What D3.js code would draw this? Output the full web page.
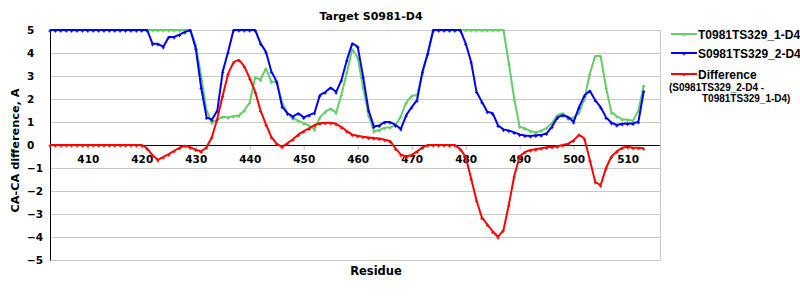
<!DOCTYPE html>
<html><head><meta charset="utf-8">
<script src="https://cdn.jsdelivr.net/npm/d3@7/dist/d3.min.js"></script>
<style>
body{margin:0;background:#fff}
svg{display:block}
text{font-weight:bold;fill:#000}
</style>
</head><body>
<svg id="chart" width="800" height="300"></svg>
<script>
// ---- data ----
const residueStart = 403, residueEnd = 513;
const residues = d3.range(residueStart, residueEnd + 1);

// T0981TS329_1-D4 (green)
const model1 = [
  5,5,5,5,5,5,5,5,5,5,                       // 403-412
  5,5,5,5,5,5,5,5,5,5,                       // 413-422
  5,5,5,5,5,5,5,4.35,3.0,1.52,               // 423-432
  0.97,1.1,1.23,1.2,1.26,1.28,1.5,1.85,2.94,2.85, // 433-442
  3.33,2.75,2.75,1.85,1.38,1.16,1.06,0.95,0.85,0.68, // 443-452
  1.2,1.45,1.58,1.4,2.2,3.15,4.16,3.8,2.5,1.3,   // 453-462
  0.6,0.65,0.75,0.77,0.85,1.25,1.85,2.14,2.17,3.1, // 463-472
  4.0,5,5,5,5,5,5,5,5,5,                     // 473-482
  5,5,5,5,5,3.55,2.0,0.8,0.72,0.6,           // 483-492
  0.55,0.62,0.75,0.95,1.3,1.38,1.15,1.2,1.4,2.0,  // 493-502
  3.1,3.87,3.87,2.5,1.42,1.25,1.12,1.1,1.06,1.5,  // 503-512
  2.6                                        // 513
];

// S0981TS329_2-D4 (blue)
const model2 = [
  5,5,5,5,5,5,5,5,5,5,                       // 403-412
  5,5,5,5,5,5,5,5,5,4.4,                     // 413-422
  4.4,4.27,4.7,4.7,4.8,4.92,5,4.2,2.5,1.2,   // 423-432
  1.1,1.5,3.2,4.05,5,5,5,5,5,4.42,           // 433-442
  4.05,3.2,2.75,1.67,1.38,1.23,1.38,1.2,1.3,1.4, // 443-452
  2.17,2.3,2.5,2.3,2.83,3.7,4.42,4.28,2.97,1.52, // 453-462
  0.8,0.85,1.0,1.0,0.87,0.7,1.3,1.65,1.95,3.2,   // 463-472
  4.0,5,5,5,5,5,5,4.42,3.62,2.32,            // 473-482
  1.88,1.45,1.38,0.85,0.68,0.63,0.55,0.46,0.41,0.39, // 483-492
  0.42,0.43,0.51,0.8,1.2,1.3,1.22,1.0,1.65,2.15,  // 493-502
  2.36,1.95,1.65,1.2,0.97,0.87,0.92,0.94,0.94,1.01, // 503-512
  2.36                                       // 513
];

// Difference (red)
const difference = [
  0,0,0,0,0,0,0,0,0,0,                       // 403-412
  0,0,0,0,0,0,0,0,-0.15,-0.45,               // 413-422
  -0.65,-0.52,-0.4,-0.25,-0.12,-0.03,-0.1,-0.2,-0.28,-0.1, // 423-432
  0.35,1.15,2.15,3.1,3.6,3.7,3.42,2.9,2.32,1.5,  // 433-442
  0.9,0.35,0.05,-0.08,0.08,0.25,0.45,0.6,0.72,0.87, // 443-452
  0.95,0.97,0.97,0.92,0.78,0.6,0.45,0.4,0.36,0.33, // 453-462
  0.3,0.28,0.23,0.17,-0.15,-0.42,-0.5,-0.43,-0.28,-0.1, // 463-472
  0,0,0,0,0,0,-0.18,-0.52,-1.45,-2.4,        // 473-482
  -3.15,-3.45,-3.75,-4.0,-3.7,-2.6,-1.35,-0.5,-0.3,-0.22, // 483-492
  -0.18,-0.14,-0.1,-0.08,-0.05,0,0.06,0.2,0.45,0.28, // 493-502
  -0.65,-1.6,-1.75,-1.0,-0.5,-0.28,-0.12,-0.08,-0.12,-0.12, // 503-512
  -0.14                                      // 513
];

const xTicks = [410,420,430,440,450,460,470,480,490,500,510];
const yTicks = [-5,-4,-3,-2,-1,0,1,2,3,4,5];
const seriesNames = ["T0981TS329_1-D4","S0981TS329_2-D4","Difference"];
const seriesColors = ["#66cc66","#0000ff","#ff0000"];
const titleText = "Target S0981-D4";
const xLabel = "Residue";
const yLabel = "CA-CA difference, A";
const diffSub = ["(S0981TS329_2-D4 -","T0981TS329_1-D4)"];

// ---- layout ----
const svg = d3.select("#chart");
const L = 50, R = 660, T = 30, B = 260;
const x = d3.scaleLinear().domain([403, 516]).range([L, R]);
const y = d3.scaleLinear().domain([-5, 5]).range([B, T]);
const wide = '"DejaVu Sans",Verdana,sans-serif';
const narrow = '"Liberation Sans",Arial,sans-serif';

// gridlines
svg.append("g").selectAll("line").data(yTicks).join("line")
  .attr("x1", L).attr("x2", R)
  .attr("y1", d => Math.round(y(d)) + 0.5).attr("y2", d => Math.round(y(d)) + 0.5)
  .attr("stroke", "#c8c8c8").attr("stroke-width", 1);
// right border
svg.append("line").attr("x1", R + 0.5).attr("x2", R + 0.5).attr("y1", T).attr("y2", B + 0.5)
  .attr("stroke", "#c8c8c8");

// y tick labels (left aligned)
svg.append("g").selectAll("text").data(yTicks).join("text")
  .attr("x", 27).attr("y", d => y(d) + 4)
  .style("font-family", wide).style("font-size", "10.5px")
  .text(d => d < 0 ? "\u2212" + Math.abs(d) : d);

// x axis on zero line
const xAxis = d3.axisBottom(x).tickValues(xTicks).tickSize(4).tickPadding(6).tickFormat(d3.format("d"));
const gx = svg.append("g").attr("transform", `translate(0,${Math.round(y(0)) + 0.5})`).call(xAxis);
gx.select(".domain").remove();
gx.selectAll(".tick line").attr("stroke", "#b0b0b0");
gx.selectAll(".tick text").style("font-size", "10.5px").style("font-family", wide).style("font-weight", "bold").attr("fill", "#000");
svg.append("line").attr("x1", L).attr("x2", R).attr("y1", Math.round(y(0)) + 0.5).attr("y2", Math.round(y(0)) + 0.5)
  .attr("stroke", "#000");
// left axis
svg.append("line").attr("x1", L + 0.5).attr("x2", L + 0.5).attr("y1", T).attr("y2", B + 0.5).attr("stroke", "#000");

// series
const series = [model1, model2, difference];
const line = d3.line().x((d, i) => x(residues[i])).y(d => y(d));
series.forEach((vals, k) => {
  const g = svg.append("g");
  g.append("path").datum(vals).attr("d", line)
    .attr("fill", "none").attr("stroke", seriesColors[k]).attr("stroke-width", 2)
    .attr("stroke-linejoin", "round");
  g.selectAll("path.m").data(vals).join("path").attr("class", "m")
    .attr("d", (d, i) => {
      const cx = x(residues[i]), cy = y(d);
      return `M${cx - 1.5},${cy + 1}h3M${cx},${cy - 0.5}v3`;
    })
    .attr("stroke", seriesColors[k]).attr("stroke-width", 1);
});

// title & axis labels
svg.append("text").attr("x", 371).attr("y", 20).attr("text-anchor", "middle")
  .style("font-family", wide).style("font-size", "11px").text(titleText);
svg.append("text").attr("x", 376).attr("y", 275).attr("text-anchor", "middle")
  .style("font-family", wide).style("font-size", "11.5px").text(xLabel);
svg.append("text").attr("transform", "translate(19,150.5) rotate(-90)").attr("text-anchor", "middle")
  .style("font-family", wide).style("font-size", "11.3px").text(yLabel);

// legend
const legY = [34, 53, 74];
seriesNames.forEach((name, k) => {
  const g = svg.append("g");
  g.append("line").attr("x1", 671).attr("x2", 697).attr("y1", legY[k]).attr("y2", legY[k])
    .attr("stroke", seriesColors[k]).attr("stroke-width", 2);
  g.append("path").attr("d", `M682.5,${legY[k] + 1}h3M684,${legY[k] - 0.5}v3`)
    .attr("stroke", seriesColors[k]).attr("stroke-width", 1);
  g.append("text").attr("x", 698).attr("y", legY[k] + 4.5)
    .style("font-family", narrow).style("font-size", "12px").text(name);
});
svg.append("text").attr("x", 669).attr("y", 91).style("font-family", narrow).style("font-size", "10px").text(diffSub[0]);
svg.append("text").attr("x", 702).attr("y", 102).style("font-family", narrow).style("font-size", "10px").text(diffSub[1]);
</script>
</body></html>
